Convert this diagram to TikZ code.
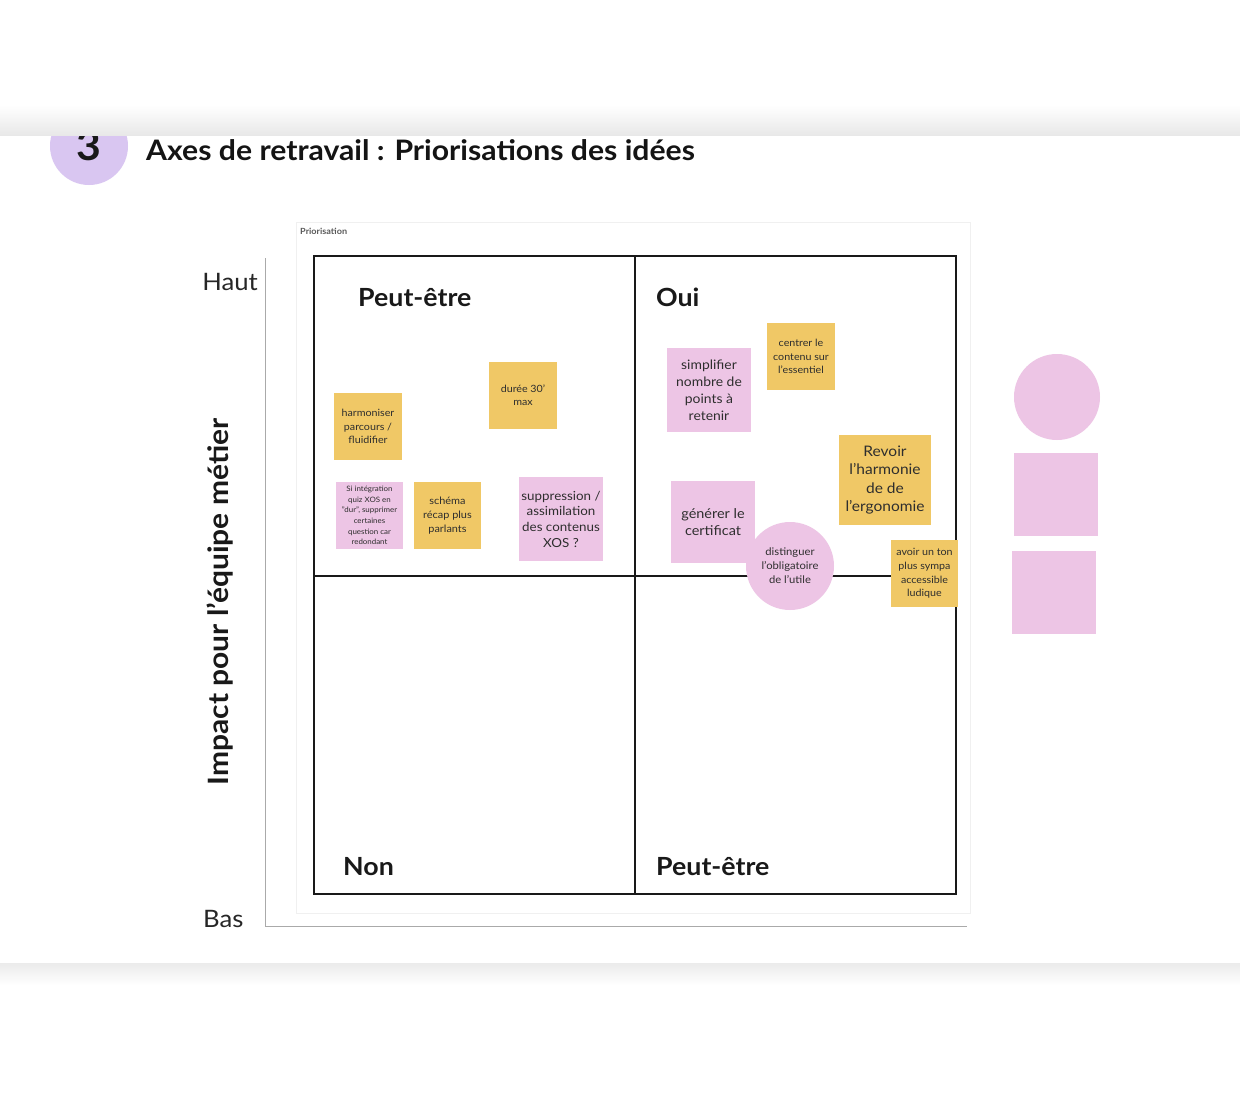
\documentclass[tikz,border=0pt]{standalone}
\usepackage{fontspec}
\setmainfont{Lato}[FakeStretch=1.07]
\newcommand\fsz[2]{\fontsize{#1}{#2}\selectfont}
\definecolor{yel}{HTML}{F0C866}
\definecolor{pnk}{HTML}{EDC5E5}
\definecolor{lav}{HTML}{D9C6F1}
\definecolor{txt}{HTML}{2E2E2E}
\definecolor{axisgray}{HTML}{AAAAAA}
\tikzset{
  sticky/.style={inner sep=0pt, align=center, text=txt},
  ysq/.style={sticky, fill=yel},
  psq/.style={sticky, fill=pnk},
  quad/.style={anchor=base west, inner sep=0pt, font=\bfseries\fsz{25}{28}, text=black!90},
  axlab/.style={inner sep=0pt, font=\fsz{24}{28}, text=black!85},
}
\begin{document}
\begin{tikzpicture}[x=1pt,y=-1pt]
\useasboundingbox (0,0) rectangle (1240,1098);
\fill[white] (0,0) rectangle (1240,1098);
% purple badge
\begin{scope}
  \clip (0,135) rectangle (300,220);
  \fill[lav] (89,146) circle (39pt);
  \node[inner sep=0pt, font=\bfseries\fsz{40}{44}, text=black!90] (badge) at (89,146) {3};
\end{scope}
% shadow bands
\shade[top color=white, bottom color=black!9] (0,105) rectangle (1240,135);
\shade[top color=black!8, bottom color=white] (0,963) rectangle (1240,985);
% title
\node[anchor=base west, inner sep=0pt, font=\bfseries\fsz{28.2}{32}, text=black!92] (title) at (146,160) {Axes de retravail : Priorisations des idées};
% frame
\draw[black!6, line width=1pt] (296,222) rectangle (970,913);
\node[anchor=base west, inner sep=0pt, font=\bfseries\fsz{8.5}{10}, text=black!65] (prio) at (300,234) {Priorisation};
% axes
\draw[axisgray, line width=0.8pt] (265,258) -- (265,926) -- (967,926);
\node[axlab, anchor=base east] (haut) at (258,290) {Haut};
\node[axlab, anchor=base west] (bas) at (203,927) {Bas};
\node[inner sep=0pt, font=\bfseries\fsz{28}{30}, text=black!90, rotate=90] (impact) at (220,602) {Impact pour l'équipe métier};
% grid
\draw[black!90, line width=1.8pt] (314,256) rectangle (956,894);
\draw[black!90, line width=1.8pt] (635,256) -- (635,894);
\draw[black!90, line width=1.8pt] (314,576) -- (956,576);
\node[quad] (q1) at (358,306) {Peut-être};
\node[quad] (q2) at (656,306) {Oui};
\node[quad] (q3) at (343,875) {Non};
\node[quad] (q4) at (656,875) {Peut-être};
% stickies top-left
\node[ysq, minimum width=68pt, minimum height=67pt, font=\fsz{10}{13.5}] (harm) at (368,426.5) {harmoniser\\parcours /\\fluidifier};
\node[ysq, minimum width=68pt, minimum height=67pt, font=\fsz{10}{13.2}] (duree) at (523,395.5) {durée 30'\\max};
\node[psq, minimum width=67pt, minimum height=67pt, font=\fsz{7.4}{10.6}] (siint) at (369.5,515.5) {Si intégration\\quiz XOS en\\"dur", supprimer\\certaines\\question car\\redondant};
\node[ysq, minimum width=67pt, minimum height=67pt, font=\fsz{10.2}{14}] (schema) at (447.5,515.5) {schéma\\récap plus\\parlants};
\node[psq, minimum width=84pt, minimum height=84pt, font=\fsz{12.5}{15.7}] (suppr) at (561,519) {suppression /\\assimilation\\des contenus\\XOS ?};
% stickies top-right
\node[psq, minimum width=84pt, minimum height=84pt, font=\fsz{13}{17}] (simpl) at (709,390) {simplifier\\nombre de\\points à\\retenir};
\node[ysq, minimum width=68pt, minimum height=67pt, font=\fsz{10}{13.5}] (centrer) at (801,356.5) {centrer le\\contenu sur\\l'essentiel};
\node[ysq, minimum width=92pt, minimum height=90pt, font=\fsz{14.5}{18.5}] (revoir) at (885,480) {Revoir\\l'harmonie\\de de\\l'ergonomie};
\node[psq, minimum width=84pt, minimum height=82pt, font=\fsz{13.5}{17}] (generer) at (713,522) {générer le\\certificat};
\node[psq, circle, minimum size=88pt, font=\fsz{10.5}{14}] (disting) at (790,566) {distinguer\\l'obligatoire\\de l'utile};
\node[ysq, minimum width=67pt, minimum height=67pt, font=\fsz{10}{13.7}] (avoir) at (924.5,573.5) {avoir un ton\\plus sympa\\accessible\\ludique};
% spare shapes
\node[psq, circle, minimum size=86pt] (sparec) at (1057,397) {};
\node[psq, minimum width=84pt, minimum height=83pt] (spare1) at (1056,494.5) {};
\node[psq, minimum width=84pt, minimum height=83pt] (spare2) at (1054,592.5) {};
\end{tikzpicture}
\end{document}
